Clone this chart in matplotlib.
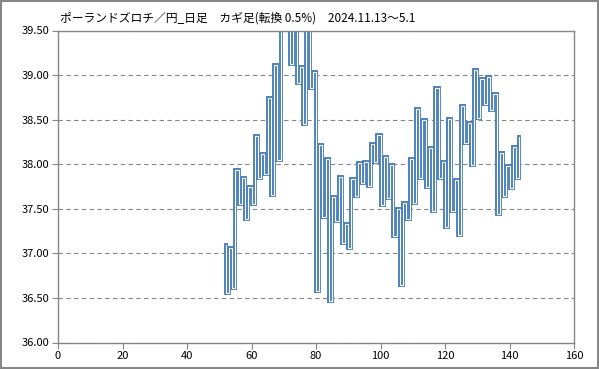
import matplotlib
matplotlib.use('Agg')
import matplotlib.pyplot as plt
import numpy as np

plt.rcParams['font.family'] = ['Noto Sans CJK JP', 'DejaVu Sans']

title = 'ポーランドズロチ／円_日足　カギ足(転換 0.5%)　2024.11.13～5.1'

# kagi turning levels; segment k is drawn at x = first_x + k from level k to level k+1
first_x = 52
levels = [
    37.09, 36.56, 37.06, 36.61, 37.94, 37.55, 37.85, 37.39, 37.75, 37.55,
    38.32, 37.84, 38.11, 37.89, 38.74, 37.65, 39.11, 38.05, 39.75, 39.58,
    39.85, 39.12, 39.62, 38.91, 39.09, 38.45, 39.65, 38.85, 39.03, 36.58,
    38.21, 37.41, 38.06, 36.47, 37.63, 37.36, 37.86, 37.12, 37.33, 37.06,
    37.83, 37.64, 38.01, 37.79, 38.02, 37.76, 38.23, 38.02, 38.33, 37.54,
    38.08, 37.62, 37.99, 37.20, 37.50, 36.64, 37.56, 37.38, 38.06, 37.57,
    38.62, 37.85, 38.50, 37.75, 38.18, 37.48, 38.86, 37.85, 38.03, 37.30,
    38.51, 37.48, 37.82, 37.21, 38.65, 38.24, 38.46, 37.99, 39.06, 38.52,
    38.96, 38.67, 38.98, 38.61, 38.79, 37.44, 38.13, 37.64, 37.98, 37.73,
    38.19, 37.85, 38.31,
]

xs = []
ys = []
for k in range(len(levels) - 1):
    x = first_x + k
    xs += [x, x]
    ys += [levels[k], levels[k + 1]]

fig = plt.figure(figsize=(5.99, 3.69), dpi=100)
fig.patch.set_edgecolor('#868686')
fig.patch.set_linewidth(1.5)
ax = fig.add_axes([58 / 599, 1 - 342.5 / 369, (574 - 58) / 599, (342.5 - 30.5) / 369])

# double-line look: thick blue with a thin white core
ax.plot(xs, ys, color='#4a7ebb', lw=2.8, solid_joinstyle='miter', solid_capstyle='projecting')
ax.plot(xs, ys, color='white', lw=0.8, solid_joinstyle='miter', solid_capstyle='projecting')

ax.set_xlim(0, 160)
ax.set_ylim(36.0, 39.5)
ax.set_xticks(np.arange(0, 161, 20))
ax.set_yticks(np.arange(36.0, 39.51, 0.5))
ax.set_yticklabels(['%.2f' % v for v in np.arange(36.0, 39.51, 0.5)])
ax.yaxis.grid(True, color='#868686', ls=(0, (4, 3)), lw=0.8)
ax.set_axisbelow(True)
for s in ax.spines.values():
    s.set_color('#868686')
    s.set_linewidth(1.0)
ax.tick_params(direction='out', length=4, color='#868686', labelsize=8, pad=2)

fig.text(60 / 599, 1 - 18 / 369, title, fontsize=8.5, va='center', ha='left')

fig.savefig('out.png', dpi=100)
